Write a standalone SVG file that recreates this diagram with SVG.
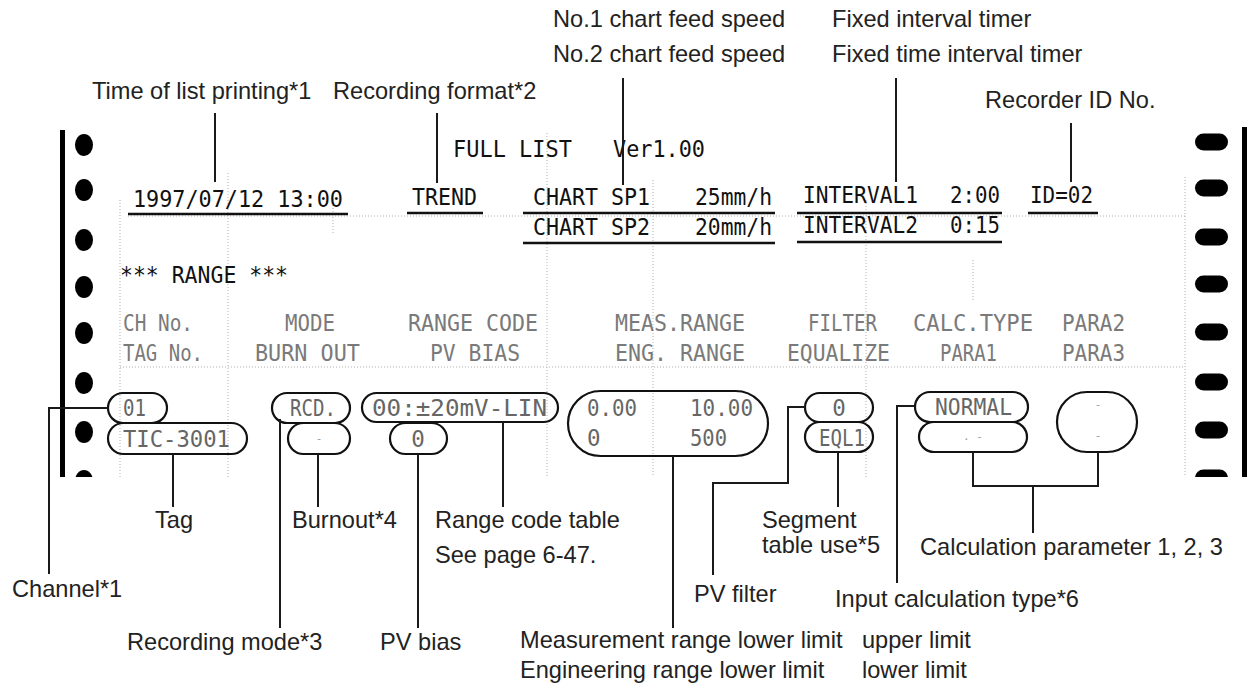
<svg xmlns="http://www.w3.org/2000/svg" width="1249" height="691" viewBox="0 0 1249 691">
<style>
.lbl{font-family:"Liberation Sans",Arial,sans-serif;font-size:23.6px;fill:#222}
.pr{font-family:"DejaVu Sans Mono","Liberation Mono",monospace;font-size:23.5px;fill:#111}
.hd{font-family:"DejaVu Sans Mono","Liberation Mono",monospace;font-size:22.5px;fill:#7a7a7a}
.dt{font-family:"DejaVu Sans Mono","Liberation Mono",monospace;font-size:22.5px;fill:#666}
.tiny{font-family:"DejaVu Sans Mono",monospace;font-size:11px;fill:#999}
.pill{fill:none;stroke:#111;stroke-width:2.2}
.ln{fill:none;stroke:#1a1a1a;stroke-width:2}
.ul{stroke:#111;stroke-width:2.5}
.dot{fill:none;stroke:#b0b0b0;stroke-width:1;stroke-dasharray:1 2}
.hole{fill:#000}
</style>
<defs>
<clipPath id="paper"><rect x="0" y="120" width="1249" height="357"/></clipPath>
</defs>
<rect width="1249" height="691" fill="#fff"/>

<g id="paper-guides">
<line class="dot" x1="120" y1="200" x2="120" y2="477"/>
<line class="dot" x1="228" y1="173" x2="228" y2="477"/>
<line class="dot" x1="333" y1="193" x2="333" y2="233"/>
<line class="dot" x1="547" y1="133" x2="547" y2="477"/>
<line class="dot" x1="653" y1="180" x2="653" y2="477"/>
<line class="dot" x1="866" y1="200" x2="866" y2="477"/>
<line class="dot" x1="973" y1="260" x2="973" y2="300"/>
<line class="dot" x1="1185" y1="177" x2="1185" y2="477"/>
<line class="dot" x1="128" y1="216" x2="1185" y2="216"/>
<line class="dot" x1="120" y1="367" x2="1185" y2="367"/>
</g>

<g id="chart-edges" clip-path="url(#paper)">
<rect x="60" y="130" width="5" height="347" fill="#000"/>
<rect x="1242" y="127" width="5" height="350" fill="#000"/>
<ellipse class="hole" cx="84" cy="145" rx="9" ry="11"/>
<ellipse class="hole" cx="84" cy="190" rx="9" ry="11"/>
<ellipse class="hole" cx="84" cy="240" rx="9" ry="11"/>
<ellipse class="hole" cx="84" cy="287" rx="9" ry="11"/>
<ellipse class="hole" cx="84" cy="333" rx="9" ry="11"/>
<ellipse class="hole" cx="84" cy="383" rx="9" ry="11"/>
<ellipse class="hole" cx="84" cy="432" rx="9" ry="11"/>
<ellipse class="hole" cx="84" cy="481" rx="9" ry="11"/>
<rect class="hole" x="1195" y="133.5" width="33" height="17" rx="8.5"/>
<rect class="hole" x="1195" y="179.5" width="33" height="17" rx="8.5"/>
<rect class="hole" x="1195" y="228.5" width="33" height="17" rx="8.5"/>
<rect class="hole" x="1195" y="275.5" width="33" height="17" rx="8.5"/>
<rect class="hole" x="1195" y="323.5" width="33" height="17" rx="8.5"/>
<rect class="hole" x="1195" y="373.5" width="33" height="17" rx="8.5"/>
<rect class="hole" x="1195" y="421.5" width="33" height="17" rx="8.5"/>
<rect class="hole" x="1195" y="469.5" width="33" height="17" rx="8.5"/>
</g>

<g id="printout-header">
<text class="pr" x="453" y="157" textLength="119" lengthAdjust="spacingAndGlyphs">FULL LIST</text>
<text class="pr" x="613" y="157" textLength="92" lengthAdjust="spacingAndGlyphs">Ver1.00</text>
<text class="pr" x="133" y="207" textLength="210" lengthAdjust="spacingAndGlyphs">1997/07/12 13:00</text>
<line class="ul" x1="128" y1="214" x2="348" y2="214"/>
<text class="pr" x="412" y="205" textLength="65" lengthAdjust="spacingAndGlyphs">TREND</text>
<line class="ul" x1="407" y1="213" x2="483" y2="213"/>
<text class="pr" x="533" y="205" textLength="117" lengthAdjust="spacingAndGlyphs">CHART SP1</text>
<text class="pr" x="695" y="205" textLength="77" lengthAdjust="spacingAndGlyphs">25mm/h</text>
<line class="ul" x1="523" y1="213" x2="775" y2="213"/>
<text class="pr" x="533" y="235" textLength="117" lengthAdjust="spacingAndGlyphs">CHART SP2</text>
<text class="pr" x="695" y="235" textLength="77" lengthAdjust="spacingAndGlyphs">20mm/h</text>
<line class="ul" x1="523" y1="243" x2="775" y2="243"/>
<text class="pr" x="803" y="203" textLength="115" lengthAdjust="spacingAndGlyphs">INTERVAL1</text>
<text class="pr" x="950" y="203" textLength="50" lengthAdjust="spacingAndGlyphs">2:00</text>
<line class="ul" x1="797" y1="213" x2="1002" y2="213"/>
<text class="pr" x="803" y="233" textLength="115" lengthAdjust="spacingAndGlyphs">INTERVAL2</text>
<text class="pr" x="950" y="233" textLength="50" lengthAdjust="spacingAndGlyphs">0:15</text>
<line class="ul" x1="797" y1="242" x2="1002" y2="242"/>
<text class="pr" x="1030" y="203" textLength="63" lengthAdjust="spacingAndGlyphs">ID=02</text>
<line class="ul" x1="1028" y1="213" x2="1098" y2="213"/>
<text class="pr" x="120" y="283" textLength="168" lengthAdjust="spacingAndGlyphs">*** RANGE ***</text>
</g>

<g id="column-headings">
<text class="hd" x="123" y="331" textLength="70" lengthAdjust="spacingAndGlyphs">CH No.</text>
<text class="hd" x="285" y="331" textLength="50" lengthAdjust="spacingAndGlyphs">MODE</text>
<text class="hd" x="408" y="331" textLength="130" lengthAdjust="spacingAndGlyphs">RANGE CODE</text>
<text class="hd" x="615" y="331" textLength="130" lengthAdjust="spacingAndGlyphs">MEAS.RANGE</text>
<text class="hd" x="808" y="331" textLength="69" lengthAdjust="spacingAndGlyphs">FILTER</text>
<text class="hd" x="913" y="331" textLength="120" lengthAdjust="spacingAndGlyphs">CALC.TYPE</text>
<text class="hd" x="1062" y="331" textLength="63" lengthAdjust="spacingAndGlyphs">PARA2</text>
<text class="hd" x="123" y="361" textLength="80" lengthAdjust="spacingAndGlyphs">TAG No.</text>
<text class="hd" x="255" y="361" textLength="105" lengthAdjust="spacingAndGlyphs">BURN OUT</text>
<text class="hd" x="430" y="361" textLength="90" lengthAdjust="spacingAndGlyphs">PV BIAS</text>
<text class="hd" x="615" y="361" textLength="130" lengthAdjust="spacingAndGlyphs">ENG. RANGE</text>
<text class="hd" x="787" y="361" textLength="103" lengthAdjust="spacingAndGlyphs">EQUALIZE</text>
<text class="hd" x="940" y="361" textLength="57" lengthAdjust="spacingAndGlyphs">PARA1</text>
<text class="hd" x="1062" y="361" textLength="63" lengthAdjust="spacingAndGlyphs">PARA3</text>
</g>

<g id="node-ch">
<rect class="pill" x="108" y="393" width="59" height="30" rx="15"/>
<text class="dt" x="123" y="416" textLength="23" lengthAdjust="spacingAndGlyphs">01</text>
</g>
<g id="node-tag">
<rect class="pill" x="108" y="423" width="139" height="31" rx="15.5"/>
<text class="dt" x="123" y="447" textLength="107" lengthAdjust="spacingAndGlyphs">TIC-3001</text>
</g>
<g id="node-mode">
<rect class="pill" x="272" y="393" width="78" height="30" rx="15"/>
<text class="dt" x="290" y="416" textLength="46" lengthAdjust="spacingAndGlyphs">RCD.</text>
</g>
<g id="node-burnout">
<rect class="pill" x="288" y="423" width="62" height="31" rx="15.5"/>
<text class="tiny" x="319" y="442" text-anchor="middle">-</text>
</g>
<g id="node-rangecode">
<rect class="pill" x="362" y="393" width="196" height="29" rx="14.5"/>
<text class="dt" x="372" y="416" textLength="175" lengthAdjust="spacingAndGlyphs">00:±20mV-LIN</text>
</g>
<g id="node-pvbias">
<rect class="pill" x="390" y="423" width="57" height="31" rx="15.5"/>
<text class="dt" x="418" y="447" text-anchor="middle">0</text>
</g>
<g id="node-range">
<rect class="pill" x="568" y="391" width="200" height="65" rx="32.5"/>
<text class="dt" x="587" y="416" textLength="50" lengthAdjust="spacingAndGlyphs">0.00</text>
<text class="dt" x="690" y="416" textLength="63" lengthAdjust="spacingAndGlyphs">10.00</text>
<text class="dt" x="587" y="446">0</text>
<text class="dt" x="690" y="446" textLength="37" lengthAdjust="spacingAndGlyphs">500</text>
</g>
<g id="node-filter">
<rect class="pill" x="805" y="393" width="68" height="29" rx="14.5"/>
<text class="dt" x="839" y="416" text-anchor="middle">0</text>
</g>
<g id="node-equalize">
<rect class="pill" x="805" y="422" width="68" height="30" rx="15"/>
<text class="dt" x="819" y="446" textLength="46" lengthAdjust="spacingAndGlyphs">EQL1</text>
</g>
<g id="node-calctype">
<rect class="pill" x="915" y="392" width="113" height="30" rx="15"/>
<text class="dt" x="935" y="415" textLength="77" lengthAdjust="spacingAndGlyphs">NORMAL</text>
</g>
<g id="node-para1">
<rect class="pill" x="919" y="422" width="108" height="30" rx="15"/>
<text class="tiny" x="973" y="440" text-anchor="middle">. -</text>
</g>
<g id="node-para23">
<rect class="pill" x="1057" y="392" width="80" height="60" rx="30"/>
<text class="tiny" x="1098" y="408" text-anchor="middle">-</text>
<text class="tiny" x="1098" y="439" text-anchor="middle">-</text>
</g>

<g id="connectors">
<line class="ln" x1="215" y1="113" x2="215" y2="182"/>
<line class="ln" x1="437" y1="113" x2="437" y2="183"/>
<line class="ln" x1="623" y1="78" x2="623" y2="185"/>
<line class="ln" x1="896" y1="78" x2="896" y2="182"/>
<line class="ln" x1="1071" y1="123" x2="1071" y2="182"/>
<polyline class="ln" points="108,408 49,408 49,574"/>
<line class="ln" x1="173" y1="454" x2="173" y2="507"/>
<line class="ln" x1="280" y1="419" x2="280" y2="628"/>
<line class="ln" x1="318" y1="454" x2="318" y2="507"/>
<line class="ln" x1="418" y1="454" x2="418" y2="628"/>
<line class="ln" x1="503" y1="422" x2="503" y2="507"/>
<line class="ln" x1="673" y1="456" x2="673" y2="628"/>
<polyline class="ln" points="805,407 788,407 788,483 713,483 713,575"/>
<line class="ln" x1="838" y1="452" x2="838" y2="507"/>
<polyline class="ln" points="915,406 897,406 897,583"/>
<polyline class="ln" points="973,452 973,486 1098,486 1098,452"/>
<line class="ln" x1="1033" y1="486" x2="1033" y2="533"/>
</g>

<g id="lbl-time"><text class="lbl" x="92" y="99">Time of list printing*1</text></g>
<g id="lbl-format"><text class="lbl" x="333" y="99">Recording format*2</text></g>
<g id="lbl-chartspeed">
<text class="lbl" x="553" y="27">No.1 chart feed speed</text>
<text class="lbl" x="553" y="62">No.2 chart feed speed</text>
</g>
<g id="lbl-interval">
<text class="lbl" x="832" y="27">Fixed interval timer</text>
<text class="lbl" x="832" y="62">Fixed time interval timer</text>
</g>
<g id="lbl-id"><text class="lbl" x="985" y="108">Recorder ID No.</text></g>
<g id="lbl-tag"><text class="lbl" x="155" y="528">Tag</text></g>
<g id="lbl-burnout"><text class="lbl" x="292" y="528">Burnout*4</text></g>
<g id="lbl-rangecode">
<text class="lbl" x="435" y="528">Range code table</text>
<text class="lbl" x="435" y="563">See page 6-47.</text>
</g>
<g id="lbl-channel"><text class="lbl" x="12" y="597">Channel*1</text></g>
<g id="lbl-mode"><text class="lbl" x="127" y="650">Recording mode*3</text></g>
<g id="lbl-pvbias"><text class="lbl" x="380" y="650">PV bias</text></g>
<g id="lbl-range">
<text class="lbl" x="520" y="648">Measurement range lower limit</text>
<text class="lbl" x="862" y="648">upper limit</text>
<text class="lbl" x="520" y="678">Engineering range lower limit</text>
<text class="lbl" x="862" y="678">lower limit</text>
</g>
<g id="lbl-segment">
<text class="lbl" x="762" y="528">Segment</text>
<text class="lbl" x="762" y="553">table use*5</text>
</g>
<g id="lbl-calcparam"><text class="lbl" x="920" y="555">Calculation parameter 1, 2, 3</text></g>
<g id="lbl-pvfilter"><text class="lbl" x="694" y="602">PV filter</text></g>
<g id="lbl-calctype"><text class="lbl" x="835" y="607">Input calculation type*6</text></g>
</svg>
